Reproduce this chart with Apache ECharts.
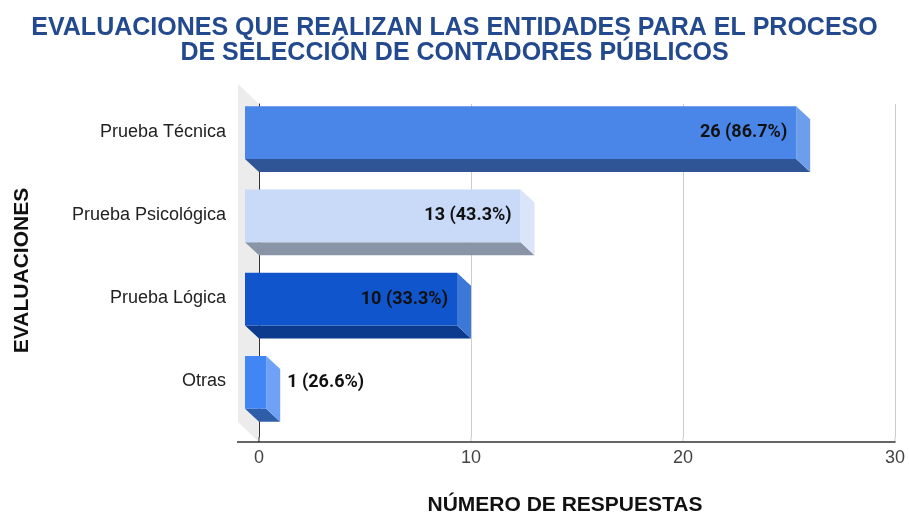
<!DOCTYPE html>
<html>
<head>
<meta charset="utf-8">
<script src="https://cdn.jsdelivr.net/npm/echarts@6/dist/echarts.min.js"></script>
<style>
  html, body { margin: 0; padding: 0; background: #fff; }
  #chart { width: 909px; height: 518px; }
</style>
</head>
<body>
<div id="chart"></div>
<script>
const categories = ['Prueba Técnica', 'Prueba Psicológica', 'Prueba Lógica', 'Otras']
const respuestas = [26, 13, 10, 1]
const porcentajes = ['86.7%', '43.3%', '33.3%', '26.6%']
const xTicks = [0, 10, 20, 30]

// caras: frente, lado, base
const palette = [
    ['#4a86e8', '#6d9eeb', '#2f5597'],
    ['#c9daf8', '#dae5f9', '#8995a6'],
    ['#1155cc', '#3c78d8', '#0c3a8c'],
    ['#4285f4', '#6fa1f6', '#2f5ea8']
]

const DX = 14
const DY = 13
const AXIS_DROP = 5

const chart = echarts.init(document.getElementById('chart'))

const renderBar = (params, api) => {
    const idx = params.dataIndex
    const value = api.value(0)
    const catPos = api.coord([0, api.value(1)])
    const endPos = api.coord([value, api.value(1)])
    const h = api.size([0, 1])[1] * 0.636
    const x0 = catPos[0] - DX
    const x1 = endPos[0] - DX
    const y0 = catPos[1] - DY - h / 2
    const y1 = catPos[1] - DY + h / 2
    const colors = palette[idx]
    const text = respuestas[idx] + ' (' + porcentajes[idx] + ')'
    const inside = (x1 - x0) > 120
    return {
        type: 'group',
        children: [
            {
                type: 'polygon',
                shape: { points: [[x0, y1], [x1, y1], [x1 + DX, y1 + DY], [x0 + DX, y1 + DY]] },
                style: { fill: colors[2] }
            },
            {
                type: 'polygon',
                shape: { points: [[x1, y0], [x1 + DX, y0 + DY], [x1 + DX, y1 + DY], [x1, y1]] },
                style: { fill: colors[1] }
            },
            {
                type: 'rect',
                shape: { x: x0, y: y0, width: x1 - x0, height: y1 - y0 },
                style: { fill: colors[0] }
            },
            {
                type: 'text',
                x: inside ? x1 - 9 : x1 + DX + 7,
                y: (y0 + y1) / 2,
                style: {
                    text: text,
                    align: inside ? 'right' : 'left',
                    verticalAlign: 'middle',
                    fill: '#111',
                    font: 'bold 18px Roboto, sans-serif'
                }
            }
        ]
    }
}

// pared gris del fondo + prolongacion de los ejes
const renderWall = (params, api) => {
    const cs = params.coordSys
    const left = cs.x
    const top = cs.y
    const bottom = cs.y + cs.height + AXIS_DROP
    const children = [
        {
            type: 'polygon',
            shape: { points: [[left - 21, top - 20], [left, top], [left, bottom], [left - 21, bottom - 20]] },
            style: { fill: '#ececec' }
        },
        {
            type: 'line',
            shape: { x1: left - 22, y1: bottom, x2: left, y2: bottom },
            style: { stroke: '#333', lineWidth: 1.5 }
        },
        {
            type: 'line',
            shape: { x1: left, y1: bottom - AXIS_DROP, x2: left, y2: bottom },
            style: { stroke: '#333', lineWidth: 1 }
        }
    ]
    xTicks.slice(1).forEach(t => {
        const x = api.coord([t, 0])[0]
        children.push({
            type: 'line',
            shape: { x1: x, y1: bottom - AXIS_DROP, x2: x, y2: bottom },
            style: { stroke: '#cccccc', lineWidth: 1 }
        })
    })
    return { type: 'group', children }
}

chart.setOption({
    animation: false,
    title: {
        text: 'EVALUACIONES QUE REALIZAN LAS ENTIDADES PARA EL PROCESO\nDE SELECCIÓN DE CONTADORES PÚBLICOS',
        left: 'center',
        top: 11,
        textStyle: {
            fontFamily: 'Liberation Sans, Arial, sans-serif',
            fontSize: 25,
            fontWeight: 'bold',
            color: '#23498e',
            lineHeight: 25
        }
    },
    grid: {
        left: 259,
        right: 14,
        top: 104,
        bottom: 81,
        containLabel: false,
        outerBoundsMode: 'none'
    },
    xAxis: {
        type: 'value',
        min: xTicks[0],
        max: xTicks[xTicks.length - 1],
        interval: 10,
        offset: AXIS_DROP,
        name: 'NÚMERO DE RESPUESTAS',
        nameLocation: 'middle',
        nameGap: 53,
        nameTextStyle: {
            fontFamily: 'Liberation Sans, Arial, sans-serif',
            fontSize: 21,
            fontWeight: 'bold',
            color: '#111',
            padding: [0, 24, 0, 0]
        },
        axisLine: { show: true, lineStyle: { color: '#333', width: 1.5 } },
        axisTick: { show: false },
        axisLabel: {
            margin: 7,
            fontFamily: 'Liberation Sans, Arial, sans-serif',
            fontSize: 18,
            color: '#444'
        },
        splitLine: { show: true, lineStyle: { color: '#cccccc', width: 1 } }
    },
    yAxis: {
        type: 'category',
        data: categories,
        inverse: true,
        name: 'EVALUACIONES',
        nameLocation: 'middle',
        nameGap: 226,
        nameRotate: 90,
        nameTextStyle: {
            fontFamily: 'Liberation Sans, Arial, sans-serif',
            fontSize: 21,
            fontWeight: 'bold',
            color: '#111'
        },
        axisLine: { show: true, lineStyle: { color: '#333', width: 1 } },
        axisTick: { show: false },
        axisLabel: {
            margin: 33,
            verticalAlign: 'bottom',
            lineHeight: 28,
            fontFamily: 'Liberation Sans, Arial, sans-serif',
            fontSize: 18,
            color: '#222'
        },
        splitLine: { show: false }
    },
    series: [
        {
            type: 'custom',
            z: -1,
            silent: true,
            renderItem: renderWall,
            data: [[0, 0]]
        },
        {
            type: 'custom',
            renderItem: renderBar,
            encode: { x: 0, y: 1 },
            data: respuestas.map((v, i) => [v, i])
        }
    ]
})
</script>
</body>
</html>
